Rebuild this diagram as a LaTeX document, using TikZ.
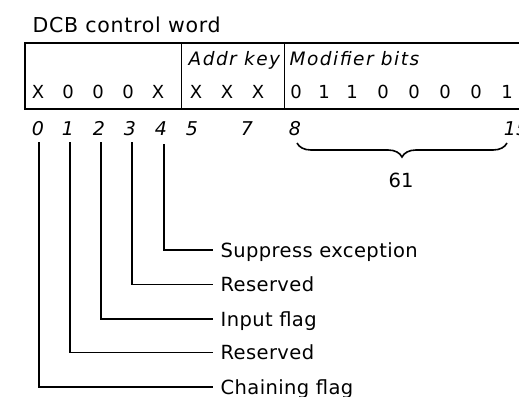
\documentclass[tikz,border=0pt]{standalone}
\usepackage{fontspec}
\setmainfont{DejaVu Sans}
\newfontfamily\ttlfont[LetterSpace=3.5]{DejaVu Sans}
\newfontfamily\labfont[LetterSpace=2]{DejaVu Sans}
\newfontfamily\hdrfont[LetterSpace=8]{DejaVu Sans}
\usetikzlibrary{decorations.pathreplacing}
\begin{document}
\begin{tikzpicture}[x=1pt,y=-1pt,
  line width=1.3pt,
  bitval/.style={inner sep=0pt,anchor=base,font=\fontsize{18}{20}\selectfont},
  bitnum/.style={inner sep=0pt,anchor=base,font=\fontsize{19}{21}\selectfont\itshape},
  hdr/.style={inner sep=0pt,anchor=base west,font=\hdrfont\fontsize{18.5}{21}\selectfont\itshape},
  lab/.style={inner sep=0pt,anchor=west,text height=14.2pt,text depth=0pt,font=\labfont\fontsize{19.5}{22}\selectfont},
  leader/.style={line width=1.3pt}]
\useasboundingbox (0,0) rectangle (519,396);
\clip (0,0) rectangle (519,396);
% title
\node[inner sep=0pt,anchor=base west,font=\ttlfont\fontsize{20.5}{24}\selectfont] (title) at (32,33) {DCB control word};
% box
\draw (25,43) rectangle (545,109);
\draw (181.5,43) -- (181.5,109);
\draw (284.5,43) -- (284.5,109);
\node[hdr] (addr) at (188,66) {Addr key};
\node[hdr] (mod) at (289,66) {Modifier bits};
% bit values
\node[bitval] (v0) at (38,98) {X};
\node[bitval] (v1) at (68,98) {0};
\node[bitval] (v2) at (98,98) {0};
\node[bitval] (v3) at (128,98) {0};
\node[bitval] (v4) at (158,98) {X};
\node[bitval] (v5) at (196,98) {X};
\node[bitval] (v6) at (227,98) {X};
\node[bitval] (v7) at (258,98) {X};
\node[bitval] (v8) at (296,98) {0};
\node[bitval] (v9) at (324,98) {1};
\node[bitval] (v10) at (352,98) {1};
\node[bitval] (v11) at (383,98) {0};
\node[bitval] (v12) at (414,98) {0};
\node[bitval] (v13) at (445,98) {0};
\node[bitval] (v14) at (476,98) {0};
\node[bitval] (v15) at (507,98) {1};
% bit numbers
\node[bitnum] (n0) at (38,135) {0};
\node[bitnum] (n1) at (68,135) {1};
\node[bitnum] (n2) at (99,135) {2};
\node[bitnum] (n3) at (130,135) {3};
\node[bitnum] (n4) at (161,135) {4};
\node[bitnum] (n5) at (192,135) {5};
\node[bitnum] (n7) at (247,135) {7};
\node[bitnum] (n8) at (295,135) {8};
\node[bitnum] (n15) at (516,135) {15};
% brace
\coordinate (bl) at (297,143);
\coordinate (br) at (507,143);
\draw[line width=1.6pt,decorate,decoration={brace,mirror,amplitude=14pt}] (bl) -- (br);
\node[inner sep=0pt,anchor=base,font=\fontsize{19.5}{22}\selectfont] (sixtyone) at (401,187) {61};
% labels
\node[lab] (l4) at (220,250) {Suppress exception};
\node[lab] (l3) at (220,284.5) {Reserved};
\node[lab] (l2) at (220,319) {Input flag};
\node[lab] (l1) at (220,352.5) {Reserved};
\node[lab] (l0) at (220,387) {Chaining flag};
% leader tops
\coordinate (t0) at (39,142);
\coordinate (t1) at (70,142);
\coordinate (t2) at (101,142);
\coordinate (t3) at (132,142);
\coordinate (t4) at (164,144);
\draw[leader] (t0) |- ([xshift=-7pt]l0.west);
\draw[leader] (t1) |- ([xshift=-7pt]l1.west);
\draw[leader] (t2) |- ([xshift=-7pt]l2.west);
\draw[leader] (t3) |- ([xshift=-7pt]l3.west);
\draw[leader] (t4) |- ([xshift=-7pt]l4.west);
\end{tikzpicture}
\end{document}
